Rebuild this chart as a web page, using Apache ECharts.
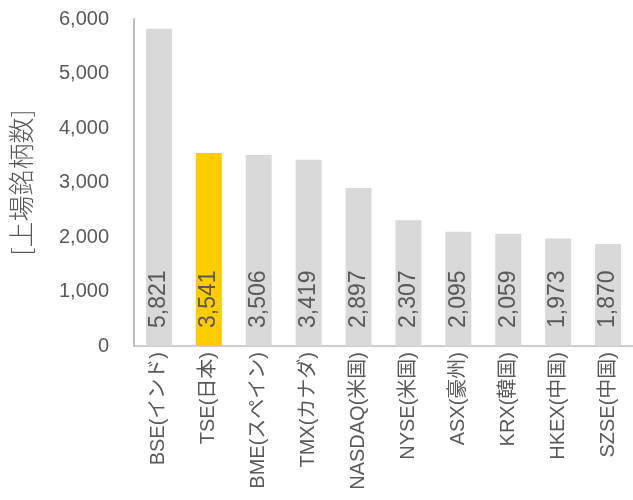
<!DOCTYPE html>
<html><head><meta charset="utf-8">
<script src="https://cdn.jsdelivr.net/npm/echarts@6/dist/echarts.min.js"></script>
<style>html,body{margin:0;padding:0;background:#fff}#c{width:633px;height:500px}</style>
</head><body><div id="c"></div>
<script>
const categories = ['BSE(インド)','TSE(日本)','BME(スペイン)','TMX(カナダ)','NASDAQ(米国)','NYSE(米国)','ASX(豪州)','KRX(韓国)','HKEX(中国)','SZSE(中国)'];
const values = [5821, 3541, 3506, 3419, 2897, 2307, 2095, 2059, 1973, 1870];
const highlightIndex = 1;
const yTicks = [0, 1000, 2000, 3000, 4000, 5000, 6000];

const FONT = '"Liberation Sans", "Noto Sans CJK JP", sans-serif';
const TXT = '#595959';
const fmt = v => v.toLocaleString('en-US');

const chart = echarts.init(document.getElementById('c'), null, {renderer: 'canvas'});
chart.setOption({
  animation: false,
  textStyle: {fontFamily: FONT},
  grid: {left: 133, right: 0, top: 19, bottom: 154, containLabel: false},
  xAxis: {
    type: 'category',
    data: categories,
    axisLine: {lineStyle: {color: '#bfbfbf', width: 1.5}},
    axisTick: {show: false},
    axisLabel: {rotate: 90, color: TXT, fontSize: 20, fontFamily: FONT, margin: 6, interval: 0}
  },
  yAxis: {
    type: 'value',
    min: yTicks[0], max: yTicks[yTicks.length - 1], interval: 1000,
    name: '[上場銘柄数]',
    nameLocation: 'middle',
    nameRotate: 90,
    nameGap: 100,
    nameTextStyle: {color: TXT, fontSize: 26, fontWeight: 300, fontFamily: '"Noto Sans CJK JP", sans-serif'},
    axisLine: {show: true, lineStyle: {color: '#bfbfbf', width: 2}},
    axisTick: {show: false},
    splitLine: {show: false},
    axisLabel: {color: TXT, fontSize: 20, fontFamily: FONT, margin: 25, formatter: v => fmt(v)}
  },
  series: [{
    type: 'bar',
    barWidth: 26,
    data: values.map((v, i) => ({value: v, itemStyle: {color: i === highlightIndex ? '#FFCC00' : '#D9D9D9'}})),
    label: {
      show: true,
      position: 'insideBottom',
      distance: 18,
      rotate: 90,
      align: 'left',
      verticalAlign: 'middle',
      color: TXT,
      fontSize: 23,
      fontFamily: FONT,
      formatter: p => fmt(p.value)
    }
  }]
});
</script></body></html>
